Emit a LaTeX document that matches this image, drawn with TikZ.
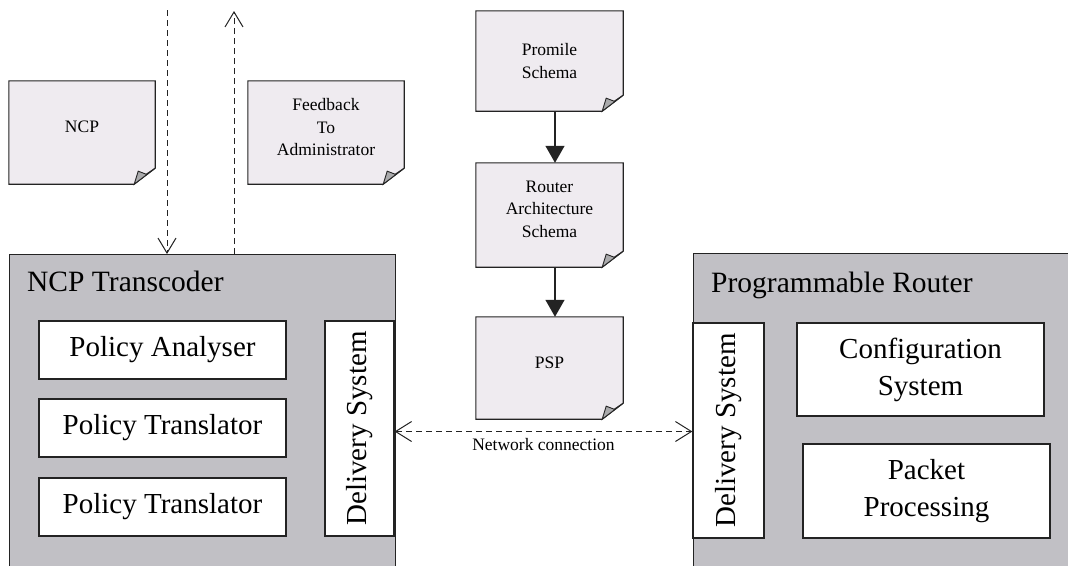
\documentclass[tikz,border=0pt]{standalone}
\usepackage{fontspec}
\setmainfont{Liberation Serif}
\usetikzlibrary{arrows.meta,backgrounds}
\definecolor{docfill}{RGB}{239,235,240}
\definecolor{boxfill}{RGB}{193,192,197}
\definecolor{curlfill}{RGB}{170,170,172}
\definecolor{edge}{RGB}{35,35,35}
\newcommand\docshape[1]{%
  \filldraw[draw=edge,line width=1.1pt,fill=docfill] (#1.north west) -- (#1.north east) -- ([yshift=16pt]#1.south east) -- ([xshift=-21pt]#1.south east) -- (#1.south west) -- cycle;
  \filldraw[draw=edge,line width=0.9pt,fill=curlfill] ([xshift=-21pt]#1.south east) -- ([xshift=-17pt,yshift=13pt]#1.south east) -- ([xshift=-9pt,yshift=10pt]#1.south east) -- ([yshift=16pt]#1.south east) -- cycle;
}
\begin{document}
\begin{tikzpicture}[x=1pt,y=-1pt,
  bigbox/.style={draw=edge,line width=1.3pt,fill=boxfill,anchor=north west,inner sep=0pt},
  innerbox/.style={draw=edge,line width=1.3pt,fill=white,inner sep=0pt,align=center,font=\fontsize{29}{37}\selectfont},
  docnode/.style={inner sep=0pt},
  doctext/.style={align=center,inner sep=0pt,font=\fontsize{17.5}{22.5}\selectfont},
  titletext/.style={anchor=base west,inner sep=0pt,font=\fontsize{29.5}{34}\selectfont},
  dashline/.style={line width=1pt,draw=edge,dash pattern=on 6pt off 4pt},
  barb/.style={-{Straight Barb[length=15pt,width=18pt,line width=1pt]}},
  solidarrow/.style={line width=1.3pt,draw=edge,-{Triangle[length=17pt,width=19pt]}},
]
\useasboundingbox (0,0) rectangle (1068,565);
\clip (0,0) rectangle (1068,565);

% big containers
\node[bigbox,minimum width=386pt,minimum height=360pt] (trans) at (9,254) {};
\node[bigbox,minimum width=420pt,minimum height=360pt] (router) at (693,253) {};
\node[titletext] (transt) at (27,291) {NCP Transcoder};
\node[titletext] (routert) at (711,292) {Programmable Router};

% inner boxes left
\node[innerbox,minimum width=247pt,minimum height=58pt] (pa) at (162.5,350) {Policy Analyser};
\node[innerbox,minimum width=247pt,minimum height=58pt] (pt1) at (162.5,428) {Policy Translator};
\node[innerbox,minimum width=247pt,minimum height=58pt] (pt2) at (162.5,507) {Policy Translator};
\node[innerbox,rotate=90,minimum width=215pt,minimum height=69pt] (ds1) at (359.5,428.5) {Delivery System};

% inner boxes right
\node[innerbox,rotate=90,minimum width=215pt,minimum height=71pt] (ds2) at (728.5,430.5) {Delivery System};
\node[innerbox,minimum width=247pt,minimum height=93pt] (cfg) at (920.5,369.5) {Configuration\\System};
\node[innerbox,minimum width=247pt,minimum height=94pt] (pkt) at (926.5,491) {Packet\\Processing};

% documents
\node[docnode,minimum width=146pt,minimum height=103pt,label={[doctext,yshift=6pt]center:NCP}] (ncp) at (82,132.5) {};
\node[docnode,minimum width=156pt,minimum height=103pt,label={[doctext,yshift=5pt]center:Feedback\\To\\Administrator}] (fb) at (326,132.5) {};
\node[docnode,minimum width=147pt,minimum height=100pt,label={[doctext,yshift=0pt]center:Promile\\Schema}] (prom) at (549.5,61) {};
\node[docnode,minimum width=147pt,minimum height=104pt,label={[doctext,yshift=6pt]center:Router\\Architecture\\Schema}] (rarch) at (549.5,215) {};
\node[docnode,minimum width=147pt,minimum height=102pt,label={[doctext,yshift=5pt]center:PSP}] (psp) at (549.5,368) {};

\begin{scope}[on background layer]
  \docshape{ncp}
  \docshape{fb}
  \docshape{prom}
  \docshape{rarch}
  \docshape{psp}
\end{scope}

% dashed vertical arrows
\coordinate (intop) at (167,10);
\coordinate (outtop) at (234,11);
\draw[dashline,barb] (intop) -- (intop |- trans.north);
\draw[dashline,barb] (outtop |- trans.north) -- (outtop);

% solid arrows
\draw[solidarrow] ([xshift=5.5pt]prom.south) -- ([xshift=5.5pt]rarch.north);
\draw[solidarrow] ([xshift=5.5pt]rarch.south) -- ([xshift=5.5pt]psp.north);

% network connection
\draw[dashline,{Straight Barb[length=16pt,width=20pt,line width=1pt]}-{Straight Barb[length=16pt,width=20pt,line width=1pt]}]
  ([yshift=-3pt]ds1.south) -- ([yshift=-3pt]ds1.south -| ds2.north)
  node[midway,below=6pt,inner sep=0pt,font=\fontsize{17.5}{20}\selectfont] (netlabel) {Network connection};
\end{tikzpicture}
\end{document}
